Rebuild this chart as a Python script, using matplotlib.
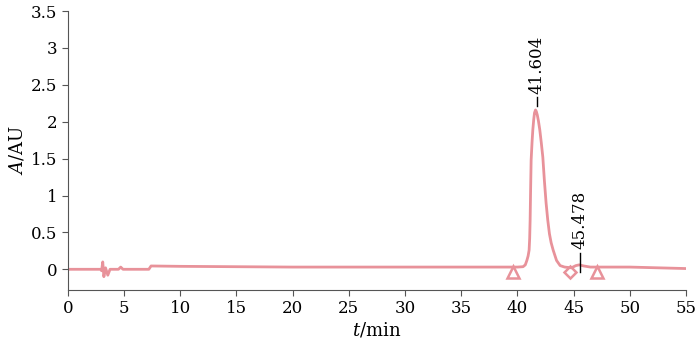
import matplotlib
matplotlib.use("Agg")
import matplotlib.pyplot as plt

time_min = [0, 2.9, 3.0, 3.1, 3.2, 3.35, 3.55, 3.75, 4.5, 4.7, 4.9, 7.2, 7.4, 10, 15, 20, 30, 40,
            40.5, 40.7, 40.84, 40.95, 41.04, 41.09, 41.13, 41.17, 41.22, 41.3, 41.37, 41.45, 41.52,
            41.61, 41.68, 41.77, 41.87, 41.99, 42.12, 42.26, 42.4, 42.55, 42.7, 42.85, 43.0,
            43.18, 43.48, 43.8, 44.2, 44.8, 45.2, 45.5, 45.9, 46.5, 50, 55]
absorb = [0, 0, -0.02, 0.1, -0.1, 0.02, -0.08, 0, 0, 0.03, 0, 0, 0.045, 0.04, 0.035, 0.03, 0.03, 0.03,
          0.035, 0.06, 0.12, 0.18, 0.26, 0.42, 0.665, 1.05, 1.48, 1.72, 1.89, 2.03, 2.12,
          2.16, 2.14, 2.09, 2.01, 1.89, 1.72, 1.52, 1.2, 0.9, 0.665, 0.48, 0.36,
          0.26, 0.12, 0.05, 0.03, 0.02, 0.05, 0.06, 0.045, 0.03, 0.03, 0.01]

peak_times = [41.604, 45.478]
peak_labels = ["41.604", "45.478"]
peak_tops = [2.16, 0.03]

start_end_t = [39.6, 47.1]
start_end_y = [-0.04, -0.04]
split_t = [44.7]
split_y = [-0.04]

xticks = list(range(0, 56, 5))
yticks = [0, 0.5, 1, 1.5, 2, 2.5, 3, 3.5]
ytick_labels = ["0", "0.5", "1", "1.5", "2", "2.5", "3", "3.5"]

plt.rcParams['font.family'] = ['DejaVu Serif']
plt.rcParams['mathtext.fontset'] = 'dejavuserif'

color = '#E8929A'
fig = plt.figure(figsize=(7, 3.46), dpi=100)
ax = fig.add_axes([0.097, 0.162, 0.883, 0.806])
ax.plot(time_min, absorb, color=color, lw=2, solid_joinstyle='round')
ax.plot(start_end_t, start_end_y, linestyle='none', marker='^', ms=8, mfc='none', mec=color, mew=1.8)
ax.plot(split_t, split_y, linestyle='none', marker='D', ms=6.5, mfc='none', mec=color, mew=1.8)

# annotations
ax.plot([peak_times[0] + 0.1] * 2, [peak_tops[0] + 0.05, peak_tops[0] + 0.17], color='black', lw=1)
ax.text(peak_times[0] + 0.1, peak_tops[0] + 0.21, peak_labels[0], rotation=90, ha='center', va='bottom', fontsize=12)
ax.plot([peak_times[1] + 0.05] * 2, [-0.04, 0.22], color='black', lw=1)
ax.text(peak_times[1] + 0.05, 0.27, peak_labels[1], rotation=90, ha='center', va='bottom', fontsize=12)

ax.set_xlim(0, 55)
ax.set_ylim(-0.28, 3.5)
ax.set_xticks(xticks)
ax.set_yticks(yticks)
ax.set_yticklabels(ytick_labels)
ax.spines['top'].set_visible(False)
ax.spines['right'].set_visible(False)
ax.spines['left'].set_color('#555555')
ax.spines['bottom'].set_color('#555555')
ax.tick_params(direction='out', length=4, color='#555555', labelsize=12)
ax.set_xlabel(r'$t$/min', fontsize=13, labelpad=2)
ax.set_ylabel(r'$A$/AU', fontsize=13, labelpad=3)

fig.savefig('out.png', dpi=100)
